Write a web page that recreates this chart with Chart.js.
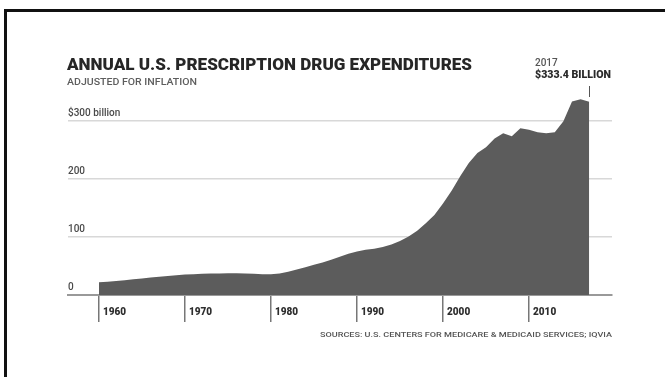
<!DOCTYPE html>
<html>
<head>
<meta charset="utf-8">
<script src="https://cdn.jsdelivr.net/npm/chart.js@4"></script>
<style>
  html, body { margin: 0; padding: 0; background: #fff; }
  #wrap { position: relative; width: 665px; height: 377px; overflow: hidden; font-family: Roboto, "Noto Sans", sans-serif; }
  #frame { position: absolute; left: 4px; top: 9px; width: 700px; height: 400px; border-left: 3px solid #111; border-top: 3px solid #111; }
  #chart { position: absolute; left: 0; top: 0; }
  .txt { position: absolute; white-space: nowrap; transform-origin: left top; }
  #title { left: 67px; top: 57px; font-size: 16px; line-height: 16px; font-weight: 900; color: #262626; }
  #subtitle { left: 67px; top: 78px; font-size: 9px; line-height: 9px; font-weight: 500; color: #5e5e5e; }
  #year { left: 535px; top: 58px; font-size: 10px; line-height: 10px; font-weight: 500; color: #555; }
  #total { left: 535px; top: 70px; font-size: 10px; line-height: 10px; font-weight: 900; color: #2a2a2a; }
  #source { left: 320px; top: 331px; font-size: 8px; line-height: 8px; font-weight: 500; color: #555; }
</style>
</head>
<body>
<div id="wrap">
  <div id="frame"></div>
  <canvas id="chart" width="665" height="377"></canvas>
  <div class="txt" id="title" data-w="405">ANNUAL U.S. PRESCRIPTION DRUG EXPENDITURES</div>
  <div class="txt" id="subtitle" data-w="130">ADJUSTED FOR INFLATION</div>
  <div class="txt" id="year">2017</div>
  <div class="txt" id="total" data-w="76">$333.4 BILLION</div>
  <div class="txt" id="source" data-w="292">SOURCES: U.S. CENTERS FOR MEDICARE &amp; MEDICAID SERVICES; IQVIA</div>
</div>
<script>
// annual spending, billions of (2017) dollars
const years = [];
for (let y = 1960; y <= 2017; y++) years.push(y);
const spending = [
  22, 23, 24, 25.5, 27, 28.5, 30, 31.5, 33, 34,
  35.5, 36, 36.5, 37, 37, 37.5, 37.5, 37, 36.5, 36,
  36, 37, 40, 44, 48, 52, 56, 61, 66, 71,
  75, 78, 80, 83, 87, 93, 101, 111, 124, 138,
  158, 180, 205, 228, 245, 255, 270, 279, 274, 288,
  285, 281, 279, 281, 300, 334, 338, 333.4
];
const decadeTicks = [1960, 1970, 1980, 1990, 2000, 2010];
const valueTicks = [0, 100, 200, 300];

// squeeze the condensed-looking texts to their width in the picture
document.querySelectorAll('.txt[data-w]').forEach(el => {
  const w = el.getBoundingClientRect().width;
  el.style.transform = 'scaleX(' + (parseFloat(el.dataset.w) / w) + ')';
});

// small marker line above the last point
const marker = {
  id: 'marker',
  afterDraw(chart) {
    const x = chart.scales.x.getPixelForValue(years[years.length - 1]);
    const c = chart.ctx;
    c.save();
    c.strokeStyle = '#555';
    c.lineWidth = 1;
    c.beginPath();
    c.moveTo(Math.round(x) + 0.5, 86);
    c.lineTo(Math.round(x) + 0.5, 97);
    c.stroke();
    c.restore();
  }
};

new Chart(document.getElementById('chart'), {
  type: 'line',
  data: {
    datasets: [{
      data: years.map((y, i) => ({ x: y, y: spending[i] })),
      fill: 'origin',
      backgroundColor: '#5c5c5c',
      borderWidth: 0,
      pointRadius: 0,
      tension: 0
    }]
  },
  options: {
    responsive: false,
    animation: false,
    layout: { padding: { left: 68, right: 53, top: 98, bottom: 52 } },
    plugins: { legend: { display: false }, tooltip: { enabled: false } },
    scales: {
      x: {
        type: 'linear',
        min: 1956.4,
        max: 2019.65,
        afterBuildTicks: s => { s.ticks = decadeTicks.map(v => ({ value: v })); },
        afterFit: s => { s.height = 30; },
        grid: { drawOnChartArea: false, drawTicks: true, tickLength: 27, tickColor: '#777', lineWidth: 1.5 },
        border: { display: true, color: '#999', width: 2 },
        ticks: {
          autoSkip: false, maxRotation: 0, align: 'start', labelOffset: 4, padding: -16,
          color: '#2e2e2e', font: { family: 'Roboto', size: 10, weight: '900' },
          callback: v => String(v)
        }
      },
      y: {
        min: 0,
        max: 340,
        afterBuildTicks: s => { s.ticks = valueTicks.map(v => ({ value: v })); },
        afterFit: s => { s.width = 0; },
        grid: { drawTicks: false, color: '#d8d8d8', lineWidth: 1.5 },
        border: { display: false },
        ticks: {
          mirror: true, padding: 0, labelOffset: -8,
          color: '#4a4a4a', font: { family: 'Roboto', size: 10, weight: '500' },
          callback: v => v === 300 ? '$300 billion' : String(v)
        }
      }
    }
  },
  plugins: [marker]
});
</script>
</body>
</html>
